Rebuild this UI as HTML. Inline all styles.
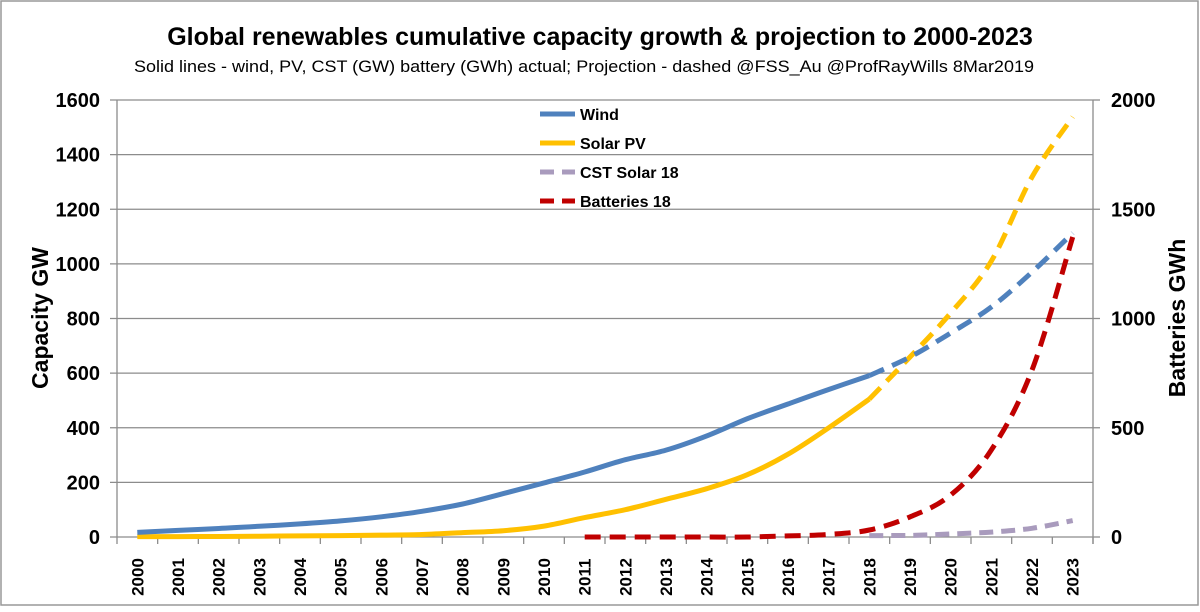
<!DOCTYPE html>
<html><head><meta charset="utf-8"><style>
body{margin:0;background:#fff;}
svg{display:block;font-family:"Liberation Sans",Arial,sans-serif;}
</style></head><body>
<svg id="chart" width="1200" height="612" viewBox="0 0 1200 612">
<rect x="1" y="1" width="1197" height="604" fill="#fff" stroke="#999" stroke-width="1.5"/>
<text x="600" y="45" text-anchor="middle" font-size="25" font-weight="bold">Global renewables cumulative capacity growth &amp; projection to 2000-2023</text>
<text x="584" y="72" text-anchor="middle" font-size="17" textLength="900" lengthAdjust="spacingAndGlyphs">Solid lines - wind, PV, CST (GW) battery (GWh) actual; Projection - dashed  @FSS_Au @ProfRayWills  8Mar2019</text>
<g id="grid"></g><g id="axes"></g><g id="series"></g>
<text transform="translate(48,318) rotate(-90)" text-anchor="middle" font-size="23" font-weight="bold">Capacity GW</text>
<text transform="translate(1185,318) rotate(-90)" text-anchor="middle" font-size="23" font-weight="bold">Batteries GWh</text>
<g>
<g><line x1="540" y1="114" x2="575" y2="114" stroke="#4f81bd" stroke-width="5"/><text x="580" y="120" font-size="16" font-weight="bold">Wind</text></g>
<g><line x1="540" y1="143" x2="575" y2="143" stroke="#ffc000" stroke-width="5"/><text x="580" y="149" font-size="16" font-weight="bold">Solar PV</text></g>
<g><line x1="540" y1="172" x2="575" y2="172" stroke="#a99bbd" stroke-width="5" stroke-dasharray="14,8"/><text x="580" y="178" font-size="16" font-weight="bold">CST Solar 18</text></g>
<g><line x1="540" y1="201" x2="575" y2="201" stroke="#c00000" stroke-width="5" stroke-dasharray="14,8"/><text x="580" y="207" font-size="16" font-weight="bold">Batteries 18</text></g>
</g>
</svg>
<script>
const years=[2000,2001,2002,2003,2004,2005,2006,2007,2008,2009,2010,2011,2012,2013,2014,2015,2016,2017,2018,2019,2020,2021,2022,2023];
const windActual=[17,24,31,39,48,59,74,94,121,159,198,238,283,318,370,433,487,540,591];
const windProj=[591,659,747,842,970,1113];
const solarActual=[1.3,1.6,2,3,4,5,7,9,16,23,40,71,100,138,177,228,303,400,505];
const solarProj=[505,659,820,1010,1318,1538];
const cstProj=[5,6,11,18,32,60];
const batteryProj=[0,0,0,0,0,5,12,32,92,192,398,764,1373];
const leftTicks=[0,200,400,600,800,1000,1200,1400,1600];
const rightTicks=[0,500,1000,1500,2000];
const NS="http://www.w3.org/2000/svg";
const L=117,R=1093,T=100,B=537;
const bw=(R-L)/years.length;
const x=i=>L+bw*(i+0.5);
const yL=v=>B-(v/1600)*(B-T);
const yR=v=>B-(v/2000)*(B-T);
function mk(tag,attrs,parent){const e=document.createElementNS(NS,tag);for(const k in attrs)e.setAttribute(k,attrs[k]);parent.appendChild(e);return e;}
const grid=document.getElementById('grid'),axes=document.getElementById('axes'),ser=document.getElementById('series');
leftTicks.forEach(v=>{
 const g=mk('line',{x1:L-7,x2:R,y1:yL(v),y2:yL(v),stroke:'#8c8c8c','stroke-width':1.3},grid);
 
 
 const t=mk('text',{x:L-17,y:yL(v)+7,'text-anchor':'end','font-size':20,'font-weight':'bold'},axes);
 t.textContent=v;
 
 
});
rightTicks.forEach(v=>{
 mk('line',{x1:R,x2:R+7,y1:yR(v),y2:yR(v),stroke:'#8c8c8c','stroke-width':1.3},grid);
 const t=mk('text',{x:R+18,y:yR(v)+7,'font-size':20,'font-weight':'bold'},axes);
 t.textContent=v;
 
 
});
mk('line',{x1:L,x2:L,y1:T,y2:B+7,stroke:'#8c8c8c','stroke-width':1.3},axes);
mk('line',{x1:R,x2:R,y1:T,y2:B+7,stroke:'#8c8c8c','stroke-width':1.3},axes);
years.forEach((yr,i)=>{
 mk('line',{x1:L+bw*(i+1),x2:L+bw*(i+1),y1:B,y2:B+7,stroke:'#8c8c8c','stroke-width':1.3},axes);
 const t=mk('text',{transform:`translate(${x(i)+6},${B+40}) rotate(-90)`,'text-anchor':'middle','font-size':17,'font-weight':'bold'},axes);
 t.textContent=yr;
 
 
});
function smooth(p){
 let d='M'+p[0][0].toFixed(1)+','+p[0][1].toFixed(1);
 for(let i=0;i<p.length-1;i++){
  const p0=p[i-1]||p[i],p1=p[i],p2=p[i+1],p3=p[i+2]||p2;
  const c1=[p1[0]+(p2[0]-p0[0])/6,p1[1]+(p2[1]-p0[1])/6];
  const c2=[p2[0]-(p3[0]-p1[0])/6,p2[1]-(p3[1]-p1[1])/6];
  d+=` C${c1[0].toFixed(1)},${c1[1].toFixed(1)} ${c2[0].toFixed(1)},${c2[1].toFixed(1)} ${p2[0].toFixed(1)},${p2[1].toFixed(1)}`;
 }
 return d;
}
function line(vals,start,yf,color,dash,name){
 const pts=vals.map((v,k)=>[x(start+k),yf(v)]);
 const p=mk('path',{d:smooth(pts),fill:'none',stroke:color,'stroke-width':5,'stroke-linejoin':'round','stroke-dasharray':dash||'none'},ser);
 
 
}
line(cstProj,18,yL,'#a99bbd','14,8','cst-projection-line');
line(batteryProj,11,yR,'#c00000','16,9','batteries-projection-line');
line(solarActual,0,yL,'#ffc000',null,'solar-actual-line');
line(solarProj,18,yL,'#ffc000','16,9','solar-projection-line');
line(windActual,0,yL,'#4f81bd',null,'wind-actual-line');
line(windProj,18,yL,'#4f81bd','16,9','wind-projection-line');
</script>
</body></html>
